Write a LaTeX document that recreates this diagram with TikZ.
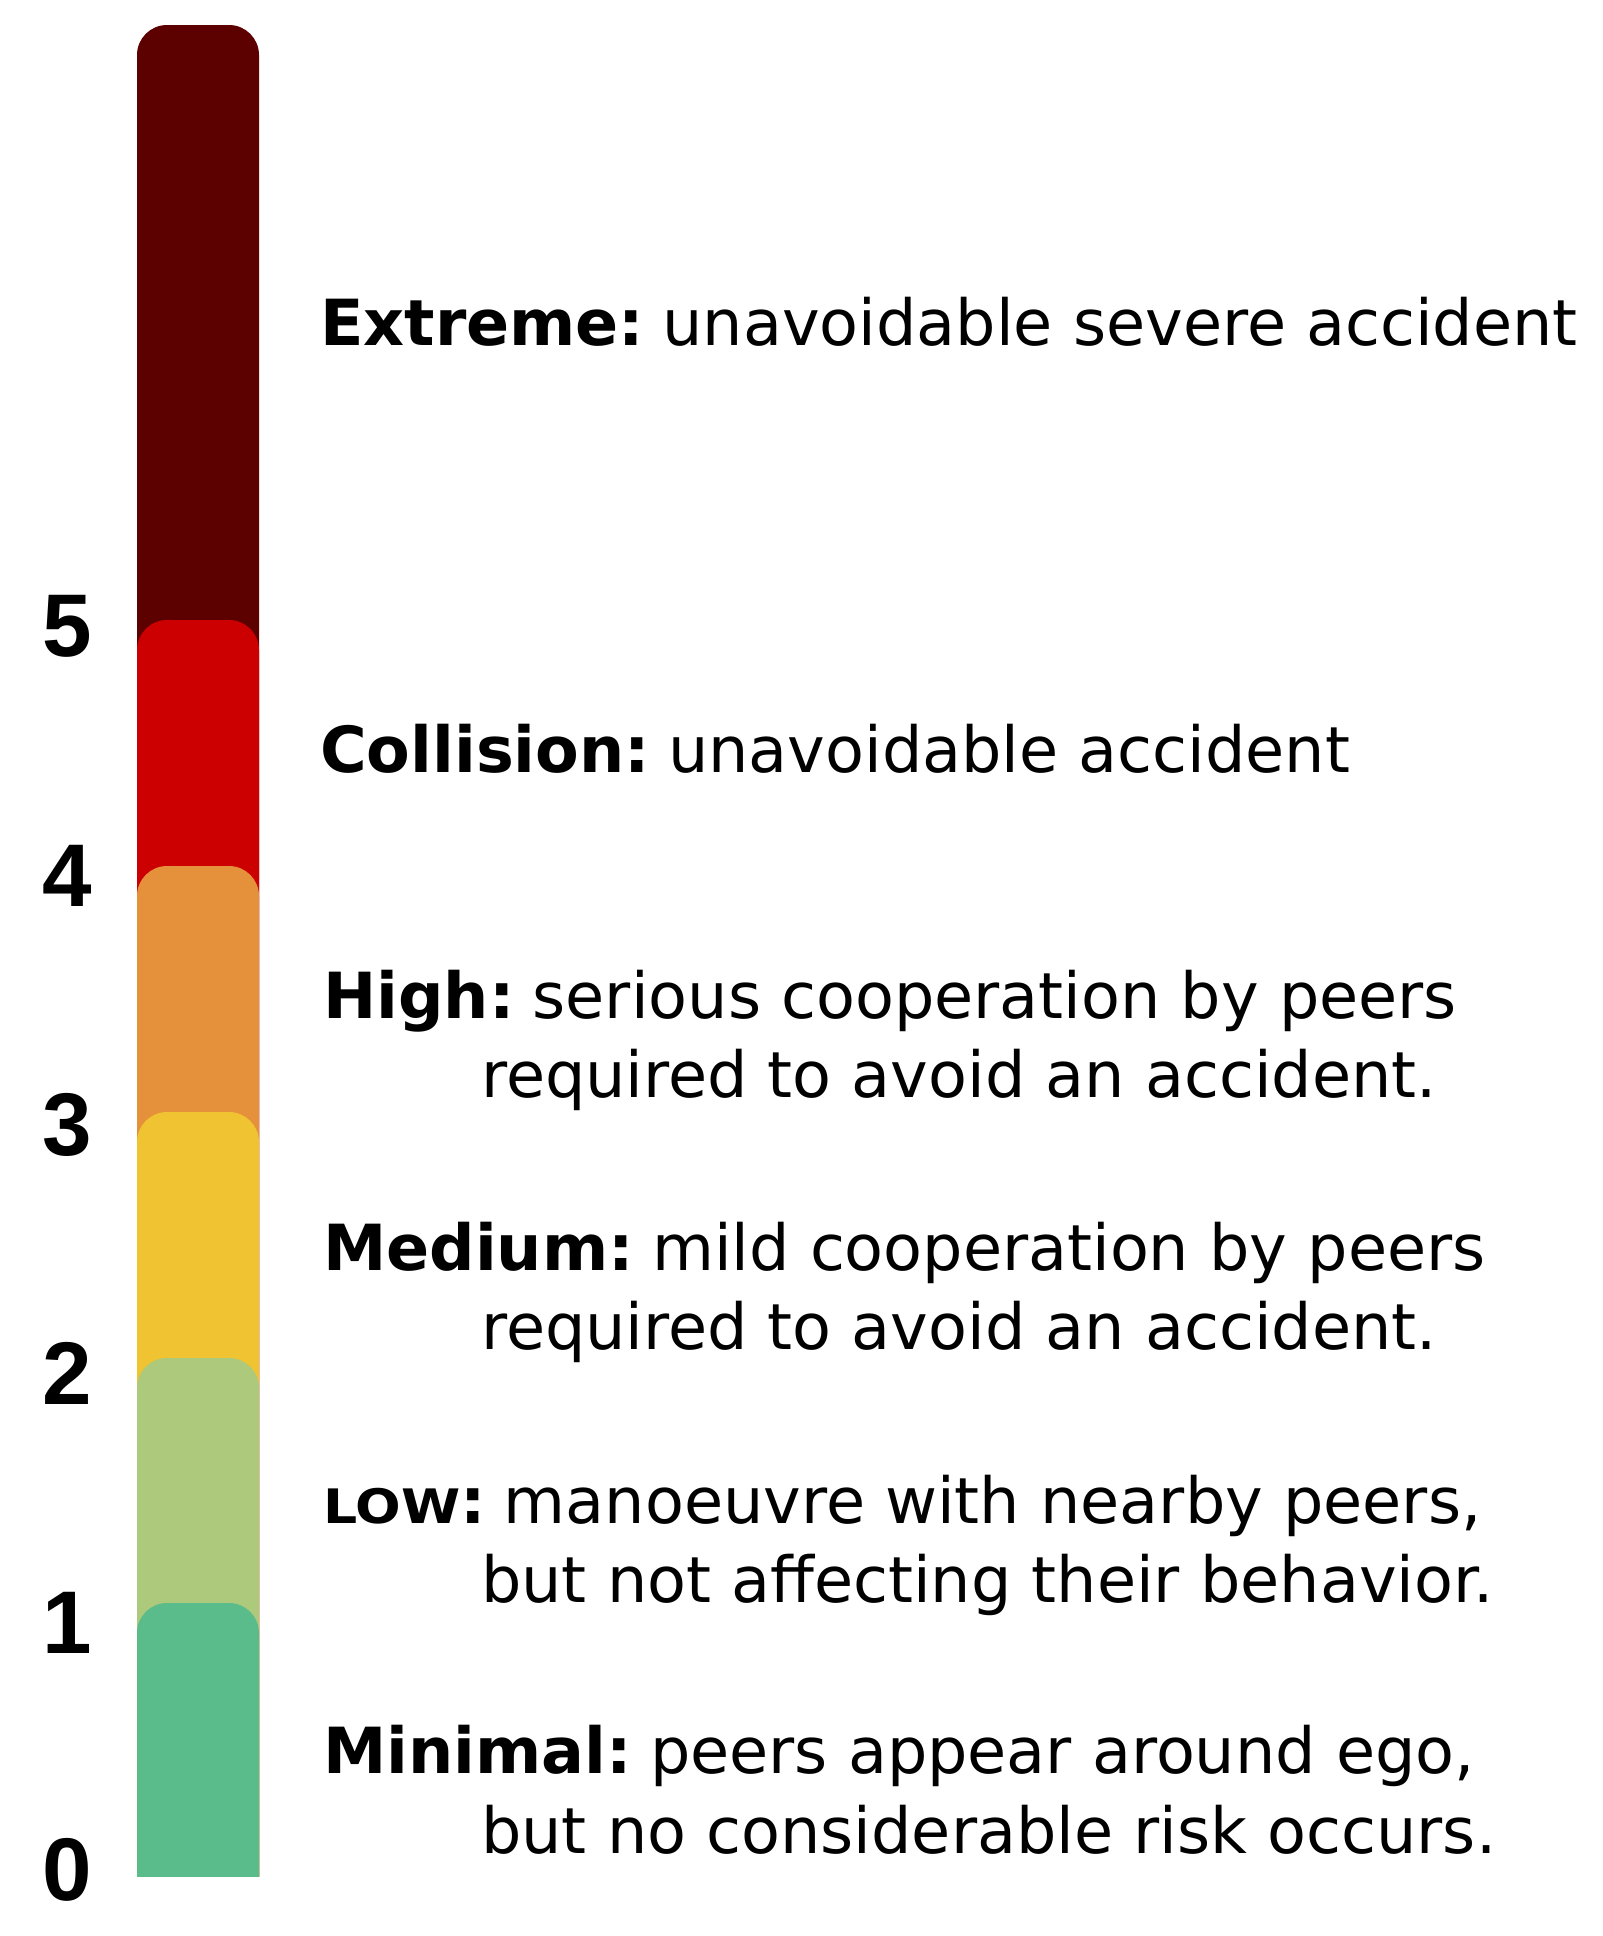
\documentclass[tikz,border=0pt]{standalone}
\usepackage{fontspec}
\setmainfont{DejaVu Sans}
\newfontfamily\numfont{Liberation Sans}
\definecolor{cExtreme}{HTML}{5C0000}
\definecolor{cCollision}{HTML}{CC0000}
\definecolor{cHigh}{HTML}{E5903A}
\definecolor{cMedium}{HTML}{F0C332}
\definecolor{cLow}{HTML}{ADC97B}
\definecolor{cMinimal}{HTML}{59BC8A}
\newcommand{\lvl}[1]{\textbf{#1}\hspace{-2pt}\ }
\tikzset{
  seg/.style={rounded corners=30pt},
  numlbl/.style={anchor=base, inner sep=0pt, font=\numfont\bfseries\fontsize{89}{89}\selectfont},
  desc/.style={anchor=base west, inner sep=0pt, font=\fontsize{63.6}{70}\selectfont},
}
\begin{document}
\begin{tikzpicture}[x=1pt,y=-1pt]
\useasboundingbox (0,0) rectangle (1603,1936);
\begin{scope}
\clip (0,0) rectangle (1603,1876);
\fill[seg,cExtreme]   (137,25)   rectangle (259,1940);
\fill[seg,cCollision] (137,620)  rectangle (259,1940);
\fill[seg,cHigh]      (137,866)  rectangle (259,1940);
\fill[seg,cMedium]    (137,1112) rectangle (259,1940);
\fill[seg,cLow]       (137,1358) rectangle (259,1940);
\fill[seg,cMinimal]   (137,1603) rectangle (259,1940);
\end{scope}
\node[numlbl] (n5) at (67,656)  {5};
\node[numlbl] (n4) at (67,906)  {4};
\node[numlbl] (n3) at (67,1155) {3};
\node[numlbl] (n2) at (67,1404) {2};
\node[numlbl] (n1) at (67,1653) {1};
\node[numlbl] (n0) at (67,1900) {0};
\node[desc] (t5) at (320,345) {\lvl{Extreme:}unavoidable severe accident};
\node[desc] (t4) at (320,772) {\lvl{Collision:}unavoidable accident};
\node[desc] (t3a) at (323,1018) {\lvl{High:}serious cooperation by peers};
\node[desc] (t3b) at (481,1097) {required to avoid an accident.};
\node[desc] (t2a) at (323,1270) {\lvl{Medium:}mild cooperation by peers};
\node[desc] (t2b) at (481,1349) {required to avoid an accident.};
\node[desc] (t1a) at (323,1523) {\lvl{\scalebox{1.13}[1]{\fontsize{47.5}{50}\selectfont LOW}:}manoeuvre with nearby peers,};
\node[desc] (t1b) at (481,1602) {but not affecting their behavior.};
\node[desc] (t0a) at (323,1773) {\lvl{Minimal:}peers appear around ego,};
\node[desc] (t0b) at (481,1853) {but no considerable risk occurs.};
\end{tikzpicture}
\end{document}
